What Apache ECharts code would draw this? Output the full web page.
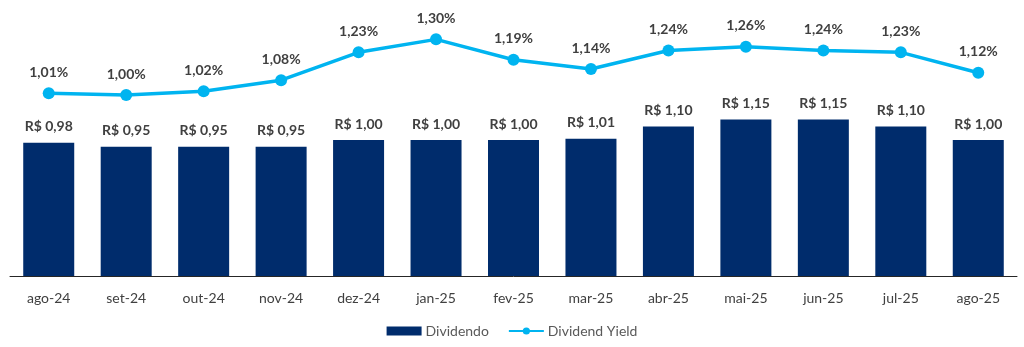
<!DOCTYPE html>
<html>
<head>
<meta charset="utf-8">
<script src="https://cdn.jsdelivr.net/npm/echarts@6/dist/echarts.min.js"></script>
<style>html,body{margin:0;padding:0;background:#fff}#c{width:1024px;height:347px}</style>
</head>
<body>
<div id="c"></div>
<script>
const categories = ['ago-24','set-24','out-24','nov-24','dez-24','jan-25','fev-25','mar-25','abr-25','mai-25','jun-25','jul-25','ago-25'];
const dividendo = [0.98,0.95,0.95,0.95,1.00,1.00,1.00,1.01,1.10,1.15,1.15,1.10,1.00];
const dividendYield = [1.01,1.00,1.02,1.08,1.23,1.30,1.19,1.14,1.24,1.26,1.24,1.23,1.12];

const FONT = 'Lato';
const fmtNum = v => v.toFixed(2).replace('.', ',');
const chart = echarts.init(document.getElementById('c'));
chart.setOption({
  animation: false,
  textStyle: { fontFamily: FONT },
  grid: { left: 10, right: 7, top: 22, bottom: 71, containLabel: false },
  legend: {
    bottom: 4,
    left: 'center',
    itemGap: 19,
    textStyle: { color: '#595959', fontSize: 14, fontFamily: FONT, padding: [0,0,0,-1] },
    data: [
      { name: 'Dividendo', icon: 'rect', itemStyle: { color: '#002C6C' } },
      { name: 'Dividend Yield' }
    ],
    itemWidth: 35,
    itemHeight: 9
  },
  xAxis: {
    type: 'category',
    data: categories,
    axisLine: { lineStyle: { color: '#262626', width: 1 } },
    axisTick: { show: false },
    axisLabel: { color: '#404040', fontSize: 14, fontFamily: FONT, margin: 15 }
  },
  yAxis: [
    { type: 'value', min: 0, max: 1.8676, show: false, splitLine: { show: false } },
    { type: 'value', min: 0.025, max: 1.3935, show: false, splitLine: { show: false } }
  ],
  series: [
    {
      name: 'Dividendo',
      type: 'bar',
      yAxisIndex: 0,
      barWidth: 51,
      data: dividendo,
      itemStyle: { color: '#002C6C' },
      label: {
        show: true, position: 'top', distance: 9,
        color: '#404040', fontSize: 14, fontWeight: 'bold', fontFamily: FONT,
        formatter: p => 'R$ ' + fmtNum(p.value)
      }
    },
    {
      name: 'Dividend Yield',
      type: 'line',
      yAxisIndex: 1,
      data: dividendYield,
      symbol: 'circle',
      symbolSize: 12,
      lineStyle: { color: '#00B4F0', width: 3.5 },
      itemStyle: { color: '#00B4F0' },
      label: {
        show: true, position: 'top', distance: 8,
        color: '#404040', fontSize: 14, fontWeight: 'bold', fontFamily: FONT,
        formatter: p => fmtNum(p.value) + '%'
      }
    }
  ]
});
</script>
</body>
</html>
